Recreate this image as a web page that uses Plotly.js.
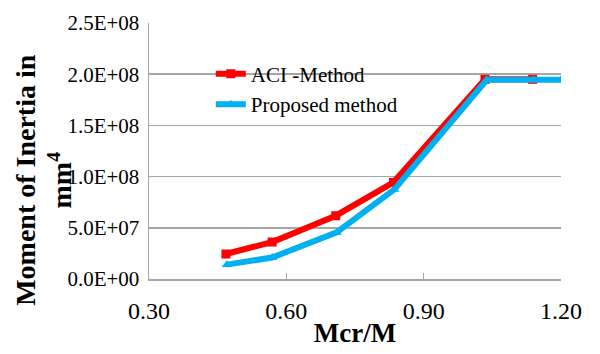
<!DOCTYPE html>
<html>
<head>
<meta charset="utf-8">
<script src="https://cdn.plot.ly/plotly-3.0.1.min.js"></script>
<style>html,body{margin:0;padding:0;background:#fff;}#chart{width:600px;height:354px;}</style>
</head>
<body>
<div id="chart"></div>
<script>
// Data
const aciX = [0.468, 0.569, 0.708, 0.834, 1.034, 1.138];
const aciY = [2.44e7, 3.61e7, 6.18e7, 9.44e7, 1.95e8, 1.95e8];
const propX = [0.470, 0.569, 0.710, 0.836, 1.038, 1.140, 1.200];
const propY = [1.40e7, 2.10e7, 4.55e7, 8.75e7, 1.945e8, 1.945e8, 1.945e8];
const seriesNames = ["ACI -Method", "Proposed method"];
const xTickVals = [0.30, 0.60, 0.90, 1.20];
const xTickText = ["0.30", "0.60", "0.90", "1.20"];
const yTickVals = [0, 5e7, 1e8, 1.5e8, 2e8, 2.5e8];
const yTickText = ["0.0E+00", "5.0E+07", "1.0E+08", "1.5E+08", "2.0E+08", "2.5E+08"];

const serif = "'Liberation Serif', 'Times New Roman', serif";
const gridGray = "#a6a6a6";

const traces = [
  {x: aciX, y: aciY, name: seriesNames[0], type: "scatter", mode: "lines+markers",
   line: {color: "#ff0000", width: 6}, marker: {symbol: "square", size: 9, color: "#ff0000"}},
  {x: propX, y: propY, name: seriesNames[1], type: "scatter", mode: "lines+markers",
   line: {color: "#00b0f0", width: 6}, marker: {symbol: "triangle-up", size: 9, color: "#00b0f0"}}
];

const layout = {
  width: 600, height: 354,
  margin: {l: 149, r: 39, t: 23, b: 75},
  paper_bgcolor: "#ffffff", plot_bgcolor: "#ffffff",
  showlegend: true,
  legend: {x: 0.15, y: 0.88, xanchor: "left", yanchor: "top", bgcolor: "rgba(0,0,0,0)",
           font: {family: serif, size: 21, color: "#000"}, tracegroupgap: 0},
  xaxis: {
    range: [0.3, 1.2], tickvals: xTickVals, ticktext: xTickText,
    showgrid: false, zeroline: false, showline: true, linecolor: gridGray, linewidth: 1.5,
    ticks: "inside", ticklen: 6, tickcolor: gridGray, tickwidth: 1.5,
    tickfont: {family: serif, size: 24, color: "#000"}, ticklabelstandoff: 10,
    title: {text: "<b>Mcr/M</b>", font: {family: serif, size: 27, color: "#000"}, standoff: 0}
  },
  yaxis: {
    range: [0, 2.5e8], tickvals: yTickVals, ticktext: yTickText,
    showgrid: true, gridcolor: gridGray, gridwidth: 1.5, zeroline: false,
    showline: true, linecolor: gridGray, linewidth: 1.5, ticks: "",
    tickfont: {family: serif, size: 21, color: "#000"}, ticklabelstandoff: 4
  },
  annotations: [{
    text: "<b>Moment of Inertia in<br>mm<sup>4</sup></b>", textangle: -90,
    xref: "paper", yref: "paper", x: -0.255, y: 0.387, xanchor: "center", yanchor: "middle",
    showarrow: false, align: "center",
    font: {family: serif, size: 28, color: "#000"}
  }]
};

Plotly.newPlot("chart", traces, layout, {displayModeBar: false, staticPlot: true});
</script>
</body>
</html>
